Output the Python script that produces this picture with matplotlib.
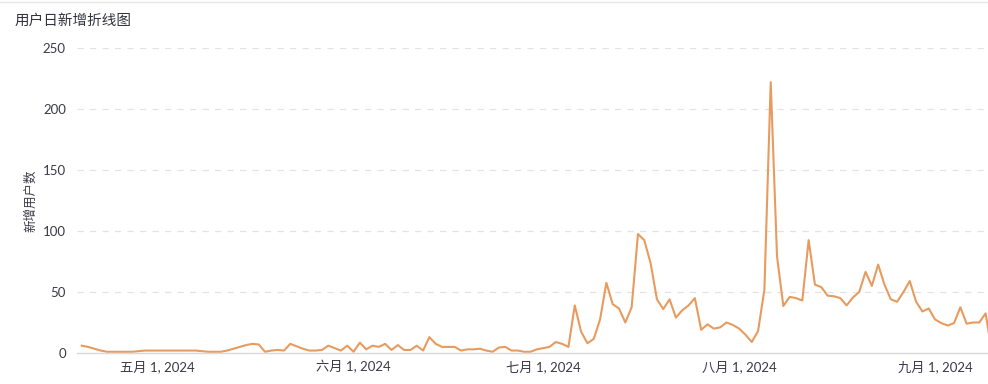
import matplotlib
matplotlib.use("Agg")
import matplotlib.pyplot as plt
from matplotlib.lines import Line2D
import pandas as pd

plt.rcParams['font.family'] = ['Lato', 'Noto Sans CJK SC', 'DejaVu Sans']

# daily new users, 2024-04-19 .. 2024-09-10 (last day cut off by the right edge)
start_date = "2024-04-19"
new_users = [
    6, 5, 3.5, 2, 1, 1, 1, 1, 1, 1.5, 2, 2, 2, 2, 2, 2, 2, 2, 2, 1.5,
    1, 1, 1, 2, 3.5, 5, 6.5, 7.5, 7, 1, 2, 2.5, 2, 7.5, 5.5, 3.5, 2, 2, 2.5, 6,
    4, 2, 6, 1, 8.5, 3, 6, 5, 7.5, 2.5, 6.5, 2.5, 2.5, 6, 2, 13, 7.5, 5, 5, 5,
    2, 3, 3, 3.5, 2, 1, 4.5, 5, 2, 2, 1, 1, 3, 4, 5, 9, 7.5, 5, 39, 17.5,
    8, 11.5, 27.5, 57.5, 40, 36.5, 25, 37.5, 97.5, 92.5, 73.5, 44, 36, 44, 29, 35, 39, 45, 19, 23.5,
    20, 21, 25, 23, 20, 15, 9, 18, 52, 222, 79, 38.5, 46, 45, 43, 92.5, 56, 54, 47, 46.5,
    45, 39, 45.5, 50, 66.5, 55, 72.5, 56, 44, 42, 50, 59, 42, 34, 36.5, 27.5, 24.5, 22.5, 24.5, 37.5,
    24, 25, 25, 32.5, 0,
]
dates = pd.date_range(start_date, periods=len(new_users), freq="D")

tick_dates = ["2024-05-01", "2024-06-01", "2024-07-01", "2024-08-01", "2024-09-01"]
tick_labels = ["五月 1, 2024", "六月 1, 2024", "七月 1, 2024", "八月 1, 2024", "九月 1, 2024"]
y_ticks = [0, 50, 100, 150, 200, 250]

title = "用户日新增折线图"
y_label = "新增用户数"

fig = plt.figure(figsize=(9.88, 3.84), dpi=100)
ax = fig.add_axes([77 / 988, 31 / 384, 911 / 988, 305 / 384])

ax.plot(dates, new_users, color="#E89B5E", linewidth=1.5, solid_joinstyle="round")

ax.set_ylim(0, 250)
ax.set_yticks(y_ticks)
ax.set_xlim(dates[0] - pd.Timedelta(hours=18), dates[-2] + pd.Timedelta(hours=9))
ax.set_xticks(pd.to_datetime(tick_dates))
ax.set_xticklabels(tick_labels)

for y in y_ticks[1:]:
    ax.axhline(y, color="#e3e3e3", linewidth=0.9, linestyle=(0, (5, 5)), zorder=0)

for s in ["top", "right", "left"]:
    ax.spines[s].set_visible(False)
ax.spines["bottom"].set_color("#d9d9d9")
ax.spines["bottom"].set_linewidth(1.0)

ax.tick_params(axis="both", length=0, labelsize=9.5, colors="#3a3a48")
ax.tick_params(axis="y", pad=8)
ax.tick_params(axis="x", pad=5)

ax.set_ylabel(y_label, fontsize=9, color="#3a3a48")
ax.yaxis.set_label_coords(-0.045, 0.5)

fig.text(15 / 988, 1 - 21 / 384, title, fontsize=10.5, color="#333340", va="center", ha="left")
fig.add_artist(Line2D([0, 1], [1 - 2 / 384, 1 - 2 / 384], transform=fig.transFigure,
                      color="#e6e6e6", linewidth=1))

fig.savefig("out.png", dpi=100)
